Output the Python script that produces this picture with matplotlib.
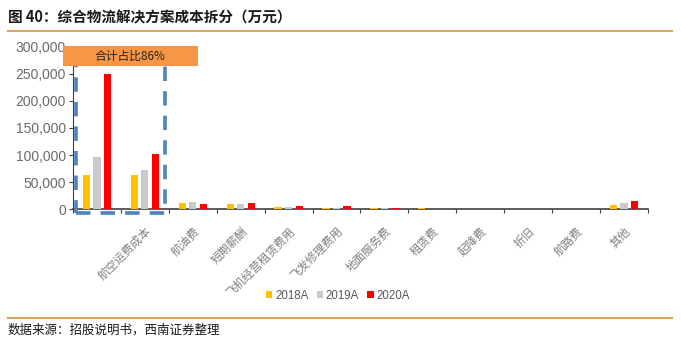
import matplotlib
matplotlib.use("Agg")
import matplotlib.pyplot as plt
from matplotlib.patches import Rectangle
import numpy as np

plt.rcParams['font.family'] = ['Noto Sans CJK SC', 'DejaVu Sans']

categories = ["", "航空运费成本", "航油费", "短期薪酬", "飞机经营租赁费用", "飞发修理费用",
              "地面服务费", "租赁费", "起降费", "折旧", "航路费", "其他"]
series_names = ["2018A", "2019A", "2020A"]
v2018 = [64000, 63000, 12000, 9800, 4300, 3100, 1800, 2500, 500, 400, 400, 8600]
v2019 = [96000, 73000, 14000, 9200, 4900, 2500, 1800, 500, 400, 500, 400, 12300]
v2020 = [250000, 101000, 9200, 11700, 6700, 6700, 3100, 500, 600, 1000, 600, 14700]
colors = ["#FFC000", "#C9C9C9", "#FF0000"]
yticks = [0, 50000, 100000, 150000, 200000, 250000, 300000]
box_text = "合计占比86%"

fig = plt.figure(figsize=(6.81, 3.43), dpi=100)
ax = fig.add_axes([73/681, 1-209.3/343, (648-73)/681, (209.3-46.5)/343])

x = np.arange(len(categories))
w = 0.15
off = 0.22
for i, (vals, c, n) in enumerate(zip([v2018, v2019, v2020], colors, series_names)):
    ax.bar(x + (i-1)*off, vals, width=w, color=c, label=n, zorder=3)

ax.set_xlim(-0.5, len(categories)-0.5)
ax.set_ylim(0, 300000)
ax.set_yticks(yticks)
ax.set_yticklabels([f"{t:,}" for t in yticks], color="#6b6b6b", fontsize=10,
                   family="Liberation Sans")
ax.set_xticks(np.arange(-0.5, len(categories)), minor=False)
ax.set_xticklabels([])
ax.set_xticks(x, minor=True)
ax.set_xticklabels(categories, minor=True, rotation=45, ha="right", va="top",
                   rotation_mode="anchor", color="#7f7f7f", fontsize=8.3)
ax.tick_params(axis="x", which="minor", length=0, pad=11)
ax.tick_params(axis="x", which="major", length=3, color="#404040", direction="out")
ax.tick_params(axis="y", length=3, color="#404040", pad=2)
for s in ["top", "right"]:
    ax.spines[s].set_visible(False)
ax.spines["left"].set_color("#404040")
ax.spines["bottom"].set_color("#404040")
ax.spines["bottom"].set_linewidth(1.2)

# dashed highlight box
rect = Rectangle((-0.44, -6000), 1.86, 300000, fill=False, edgecolor="#4F81BD",
                 linestyle=(0, (4, 2.8)), linewidth=2.6, clip_on=False, zorder=4)
ax.add_patch(rect)

# orange label box (figure coords)
fig.patches.append(Rectangle((63/681, 1-66/343), (198-63)/681, (66-46.5)/343,
                             transform=fig.transFigure, facecolor="#F79646",
                             edgecolor="none", zorder=10))
fig.text(130/681, 1-56.5/343, box_text, ha="center", va="center", fontsize=8.5,
         color="#222222", zorder=11)

# legend
h, l = ax.get_legend_handles_labels()
leg = fig.legend(h, l, loc="center", bbox_to_anchor=(338/681, 1-296/343), ncol=3, frameon=False,
                 handlelength=0.55, handleheight=0.55, handletextpad=0.25,
                 columnspacing=0.7, labelcolor="#595959",
                 prop={"family": "Liberation Sans", "size": 8.3})

# title and lines
fig.text(8/681, 1-17/343, "图 40：综合物流解决方案成本拆分（万元）", fontsize=10.5,
         fontweight="bold", ha="left", va="center", color="#1a1a1a")
fig.add_artist(plt.Line2D([8/681, 672/681], [1-31/343, 1-31/343], color="#D8A55A", lw=1.5))
fig.add_artist(plt.Line2D([8/681, 672/681], [1-318/343, 1-318/343], color="#D8A55A", lw=1.5))
fig.text(8/681, 1-330/343, "数据来源：招股说明书，西南证券整理", fontsize=9, style="italic",
         ha="left", va="center", color="#1a1a1a")

fig.savefig("out.png", dpi=100)
